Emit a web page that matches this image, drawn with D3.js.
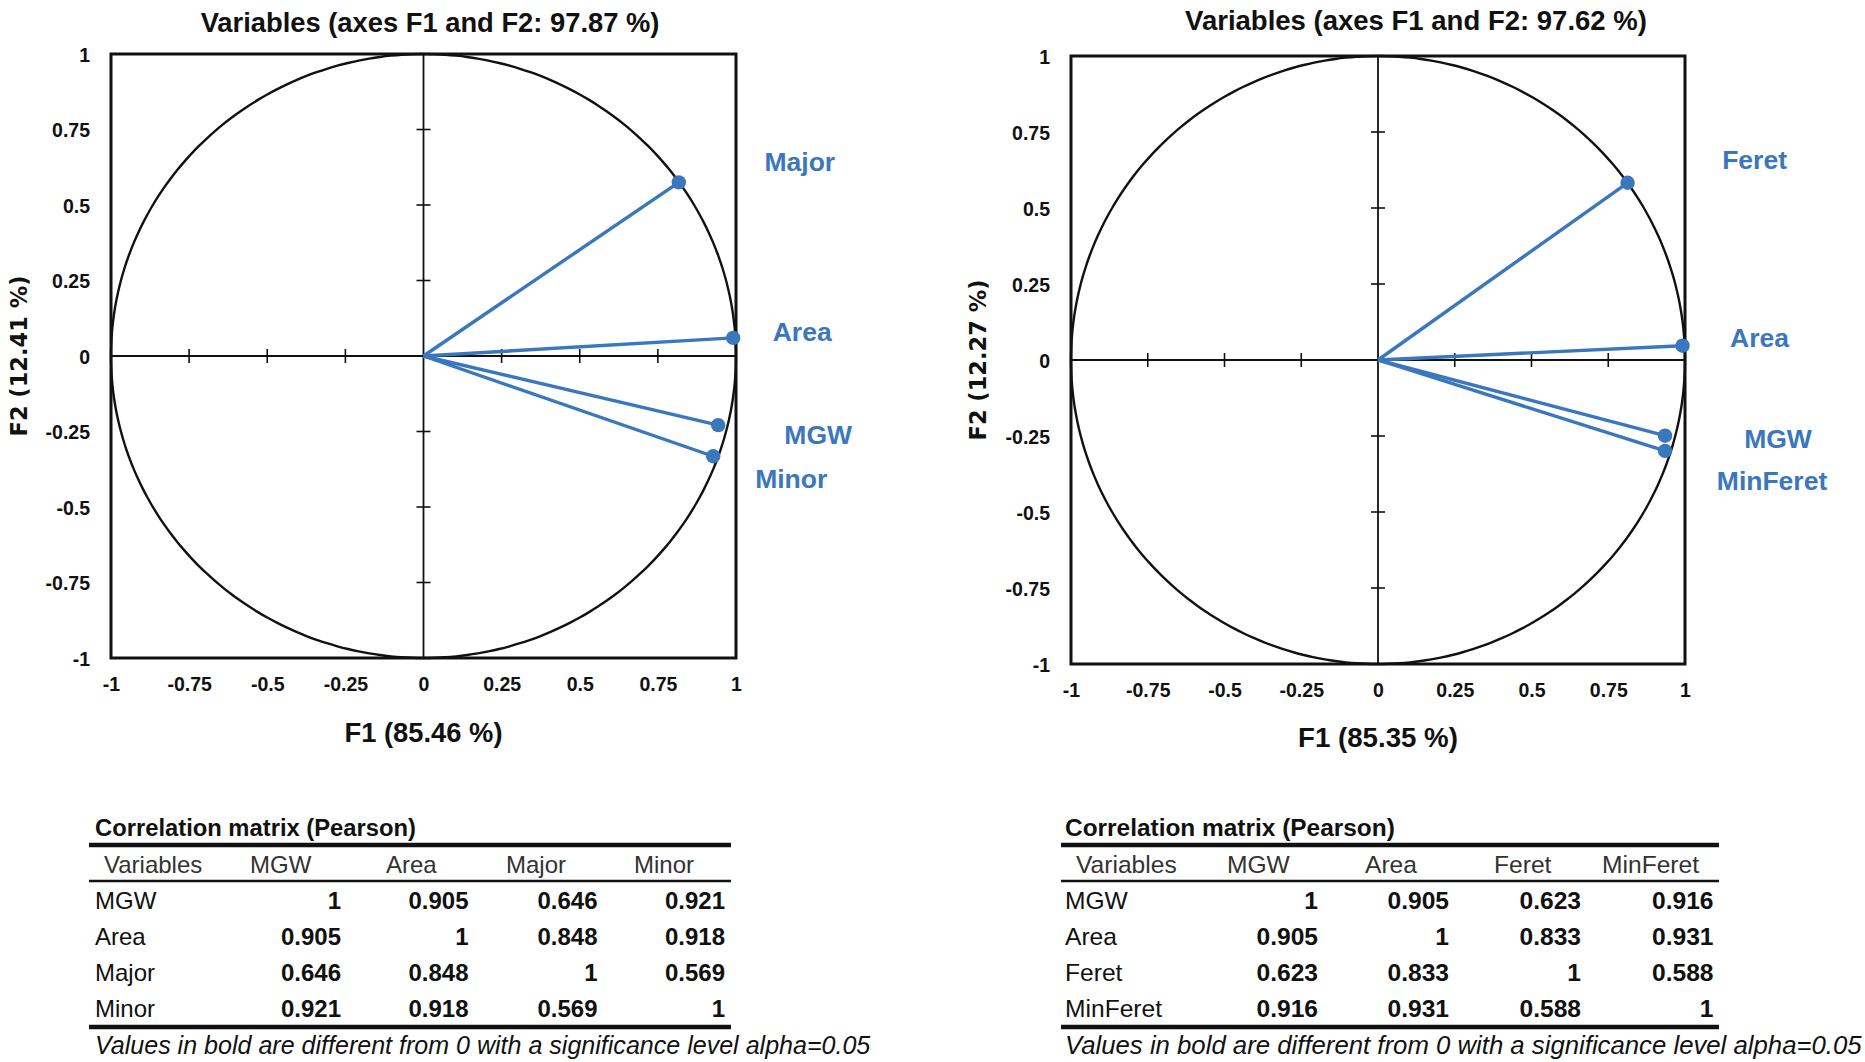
<!DOCTYPE html>
<html><head><meta charset="utf-8">
<script src="https://cdn.jsdelivr.net/npm/d3@7"></script>
<style>body{margin:0;background:#fff} svg{display:block}</style>
</head><body>
<svg id="c" width="1865" height="1062"></svg>
<script>
// ---------- data ----------
const tickValues = [-1, -0.75, -0.5, -0.25, 0, 0.25, 0.5, 0.75, 1];
const tickLabels = ["-1", "-0.75", "-0.5", "-0.25", "0", "0.25", "0.5", "0.75", "1"];
const innerTicks = [-0.75, -0.5, -0.25, 0.25, 0.5, 0.75];

const titleA = "Variables (axes F1 and F2: 97.87 %)";
const xTitleA = "F1 (85.46 %)";
const yTitleA = "F2 (12.41 %)";
const varsA = ["Major", "Area", "MGW", "Minor"];
const f1A = [0.817, 0.991, 0.943, 0.927];
const f2A = [0.575, 0.060, -0.229, -0.332];
const matVarsA = ["MGW", "Area", "Major", "Minor"];
const corrA = [
  [1, 0.905, 0.646, 0.921],
  [0.905, 1, 0.848, 0.918],
  [0.646, 0.848, 1, 0.569],
  [0.921, 0.918, 0.569, 1]
];

const titleB = "Variables (axes F1 and F2: 97.62 %)";
const xTitleB = "F1 (85.35 %)";
const yTitleB = "F2 (12.27 %)";
const varsB = ["Feret", "Area", "MGW", "MinFeret"];
const f1B = [0.813, 0.992, 0.935, 0.935];
const f2B = [0.583, 0.047, -0.249, -0.299];
const matVarsB = ["MGW", "Area", "Feret", "MinFeret"];
const corrB = [
  [1, 0.905, 0.623, 0.916],
  [0.905, 1, 0.833, 0.931],
  [0.623, 0.833, 1, 0.588],
  [0.916, 0.931, 0.588, 1]
];

const tableTitle = "Correlation matrix (Pearson)";
const headerFirst = "Variables";
const footnote = "Values in bold are different from 0 with a significance level alpha=0.05";

// ---------- layout ----------
const BLUE = "#3a77bd";
const INK = "#111";
const SANS = "'Liberation Sans', Arial, sans-serif";
const WIDE = "'DejaVu Sans', sans-serif";

const panels = [
  {
    title: titleA, xTitle: xTitleA, yTitle: yTitleA, vars: varsA, f1: f1A, f2: f2A,
    matVars: matVarsA, corr: corrA,
    x0: 111, x1: 736, y0: 54, y1: 658,
    titleX: 430, titleY: 22, titleW: 459,
    yTitleX: 19, xTitleY: 732, xTitleW: 158,
    labelOff: [[121, -20], [69, -6], [100, 10], [78, 23]],
    tb: { titleX: 95, titleW: 321, lx0: 89, lx1: 731, headerX: [104, 250, 386, 506, 634],
          rowX: 95, colRight: [341, 468.5, 597.5, 725], font: 24, footW: 776 }
  },
  {
    title: titleB, xTitle: xTitleB, yTitle: yTitleB, vars: varsB, f1: f1B, f2: f2B,
    matVars: matVarsB, corr: corrB,
    x0: 1071, x1: 1685, y0: 56, y1: 664,
    titleX: 1416, titleY: 20, titleW: 462,
    yTitleX: 978, xTitleY: 737, xTitleW: 160,
    labelOff: [[127, -23], [77, -8], [113, 3], [107, 30]],
    tb: { titleX: 1065, titleW: 330, lx0: 1061, lx1: 1719, headerX: [1076, 1227, 1365, 1494, 1602],
          rowX: 1065, colRight: [1318, 1449, 1581, 1713.5], font: 24.6, footW: 797 }
  }
];

const svg = d3.select("#c");

function fit(sel, w) {
  const fs = parseFloat(sel.attr("font-size"));
  const len = sel.node().getComputedTextLength();
  if (len > 0) sel.attr("font-size", fs * w / len);
  return sel;
}

panels.forEach(p => {
  const g = svg.append("g");
  const x = d3.scaleLinear().domain([-1, 1]).range([p.x0, p.x1]);
  const y = d3.scaleLinear().domain([-1, 1]).range([p.y1, p.y0]);

  // unit circle through scales
  const circ = d3.range(0, 360, 2).map(a => [Math.cos(a * Math.PI / 180), Math.sin(a * Math.PI / 180)]);
  g.append("path")
    .attr("d", d3.line().x(d => x(d[0])).y(d => y(d[1])).curve(d3.curveCardinalClosed)(circ))
    .attr("fill", "none").attr("stroke", INK).attr("stroke-width", 2.4);

  // zero axes
  g.append("line").attr("x1", x(-1)).attr("x2", x(1)).attr("y1", y(0)).attr("y2", y(0))
    .attr("stroke", INK).attr("stroke-width", 1.8);
  g.append("line").attr("x1", x(0)).attr("x2", x(0)).attr("y1", y(-1)).attr("y2", y(1))
    .attr("stroke", INK).attr("stroke-width", 1.8);

  // cross ticks on zero axes
  g.selectAll(".tx").data(innerTicks).join("line")
    .attr("x1", d => x(d)).attr("x2", d => x(d))
    .attr("y1", y(0) - 7).attr("y2", y(0) + 7)
    .attr("stroke", INK).attr("stroke-width", 1.6);
  g.selectAll(".ty").data(innerTicks).join("line")
    .attr("y1", d => y(d)).attr("y2", d => y(d))
    .attr("x1", x(0) - 7).attr("x2", x(0) + 7)
    .attr("stroke", INK).attr("stroke-width", 1.6);

  // frame
  g.append("rect").attr("x", x(-1)).attr("y", y(1))
    .attr("width", x(1) - x(-1)).attr("height", y(-1) - y(1))
    .attr("fill", "none").attr("stroke", INK).attr("stroke-width", 3);

  // tick labels via axes
  const fmt = d => tickLabels[tickValues.indexOf(d)];
  const ax = g.append("g").attr("transform", `translate(0,${y(-1)})`)
    .call(d3.axisBottom(x).tickValues(tickValues).tickFormat(fmt).tickSize(0).tickPadding(19));
  const ay = g.append("g").attr("transform", `translate(${x(-1)},0)`)
    .call(d3.axisLeft(y).tickValues(tickValues).tickFormat(fmt).tickSize(0).tickPadding(21));
  [ax, ay].forEach(a => {
    a.select(".domain").remove();
    a.selectAll("text").attr("font-family", SANS).attr("font-weight", "bold")
      .attr("font-size", 19.5).attr("fill", INK);
  });
  ay.selectAll("text").attr("dy", "0.36em");

  // vectors
  const idx = d3.range(p.vars.length);
  g.selectAll(".vec").data(idx).join("line")
    .attr("x1", x(0)).attr("y1", y(0))
    .attr("x2", i => x(p.f1[i])).attr("y2", i => y(p.f2[i]))
    .attr("stroke", BLUE).attr("stroke-width", 3.4);
  g.selectAll(".dot").data(idx).join("circle")
    .attr("cx", i => x(p.f1[i])).attr("cy", i => y(p.f2[i])).attr("r", 7.2)
    .attr("fill", BLUE);
  g.selectAll(".lab").data(idx).join("text")
    .attr("x", i => x(p.f1[i]) + p.labelOff[i][0])
    .attr("y", i => y(p.f2[i]) + p.labelOff[i][1])
    .attr("text-anchor", "middle").attr("dominant-baseline", "central")
    .attr("font-family", SANS).attr("font-weight", "bold").attr("font-size", 26.5)
    .attr("fill", BLUE).text(i => p.vars[i]);

  // titles
  fit(g.append("text").attr("x", p.titleX).attr("y", p.titleY)
    .attr("text-anchor", "middle").attr("dominant-baseline", "central")
    .attr("font-family", SANS).attr("font-weight", "bold").attr("font-size", 23)
    .attr("fill", INK).text(p.title), p.titleW);
  fit(g.append("text").attr("x", x(0)).attr("y", p.xTitleY)
    .attr("text-anchor", "middle").attr("dominant-baseline", "central")
    .attr("font-family", SANS).attr("font-weight", "bold").attr("font-size", 26)
    .attr("fill", INK).text(p.xTitle), p.xTitleW);
  g.append("text").attr("transform", `translate(${p.yTitleX},${y(0)}) rotate(-90)`)
    .attr("text-anchor", "middle").attr("dominant-baseline", "central")
    .attr("font-family", WIDE).attr("font-weight", "bold").attr("font-size", 22.5)
    .attr("fill", INK).text(p.yTitle);

  // ---------- correlation table ----------
  const t = p.tb;
  const tg = svg.append("g");
  fit(tg.append("text").attr("x", t.titleX).attr("y", 827).attr("dominant-baseline", "central")
    .attr("font-family", SANS).attr("font-weight", "bold").attr("font-size", 21)
    .attr("fill", INK).text(tableTitle), t.titleW);
  tg.append("line").attr("x1", t.lx0).attr("x2", t.lx1).attr("y1", 845).attr("y2", 845)
    .attr("stroke", INK).attr("stroke-width", 4.5);
  tg.append("line").attr("x1", t.lx0).attr("x2", t.lx1).attr("y1", 881).attr("y2", 881)
    .attr("stroke", INK).attr("stroke-width", 2.6);
  tg.append("line").attr("x1", t.lx0).attr("x2", t.lx1).attr("y1", 1027).attr("y2", 1027)
    .attr("stroke", INK).attr("stroke-width", 4.5);

  const headers = [headerFirst].concat(p.matVars);
  tg.selectAll(".hd").data(headers).join("text")
    .attr("x", (d, i) => t.headerX[i]).attr("y", 864).attr("dominant-baseline", "central")
    .attr("font-family", SANS).attr("font-size", t.font).attr("fill", "#333").text(d => d);

  const rowY = d3.scalePoint().domain(p.matVars).range([900, 1008]);
  p.matVars.forEach((v, r) => {
    tg.append("text").attr("x", t.rowX).attr("y", rowY(v)).attr("dominant-baseline", "central")
      .attr("font-family", SANS).attr("font-size", t.font).attr("fill", INK).text(v);
    tg.selectAll(null).data(p.corr[r]).join("text")
      .attr("x", (d, c) => t.colRight[c]).attr("y", rowY(v))
      .attr("text-anchor", "end").attr("dominant-baseline", "central")
      .attr("font-family", SANS).attr("font-weight", "bold").attr("font-size", t.font)
      .attr("fill", INK).text(d => String(d));
  });

  fit(tg.append("text").attr("x", t.rowX).attr("y", 1045).attr("dominant-baseline", "central")
    .attr("font-family", SANS).attr("font-style", "italic").attr("font-size", 21)
    .attr("fill", INK).text(footnote), t.footW);
});
</script>
</body></html>
